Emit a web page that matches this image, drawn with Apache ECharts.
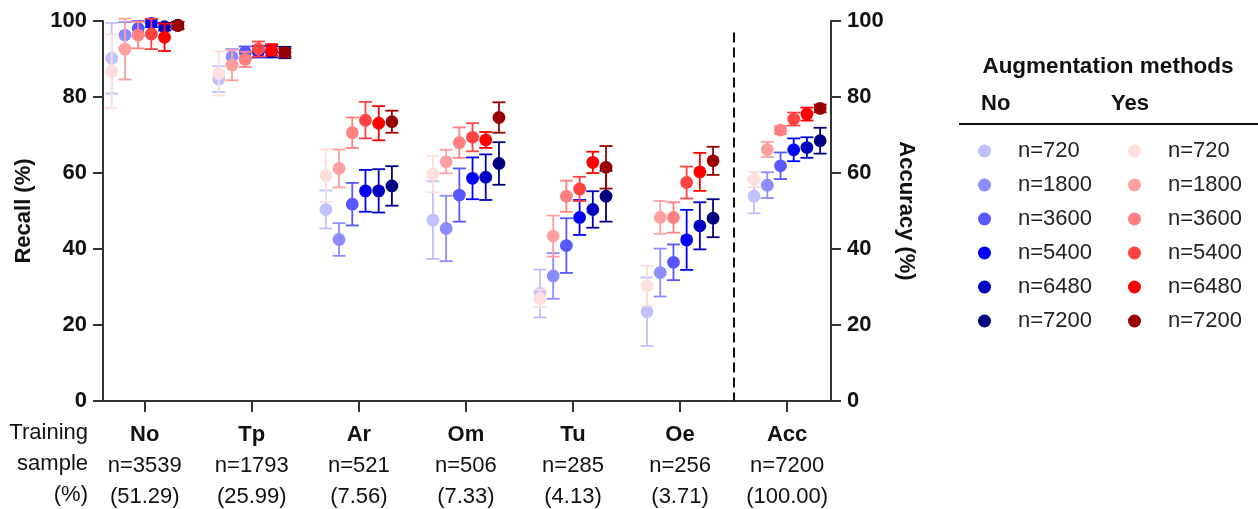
<!DOCTYPE html>
<html>
<head>
<meta charset="utf-8">
<script src="https://cdn.jsdelivr.net/npm/echarts@6/dist/echarts.min.js"></script>
<style>
  html, body { margin: 0; padding: 0; background: #fff; }
  #chart { width: 1258px; height: 509px; }
</style>
</head>
<body>
<div id="chart"></div>
<script>
(function() {
  // --- data ---
  var categories = ['No', 'Tp', 'Ar', 'Om', 'Tu', 'Oe', 'Acc'];
  var sampleCounts = ['n=3539', 'n=1793', 'n=521', 'n=506', 'n=285', 'n=256', 'n=7200'];
  var samplePct = ['(51.29)', '(25.99)', '(7.56)', '(7.33)', '(4.13)', '(3.71)', '(100.00)'];
  var sizes = ['n=720', 'n=1800', 'n=3600', 'n=5400', 'n=6480', 'n=7200'];

  // recall per size (rows) over No, Tp, Ar, Om, Tu, Oe
  var recallNo = [
    [90.2, 84.7, 50.4, 47.6, 28.3, 23.5],
    [96.3, 90.6, 42.5, 45.4, 32.9, 33.8],
    [98.0, 91.8, 51.8, 54.2, 40.9, 36.5],
    [99.4, 91.9, 55.3, 58.6, 48.3, 42.4],
    [98.5, 91.9, 55.3, 58.9, 50.4, 46.1],
    [98.9, 91.7, 56.6, 62.5, 53.9, 48.1]
  ];
  var recallNoErr = [
    [9.3, 3.4, 5.0, 10.2, 6.3, 9.0],
    [3.4, 2.0, 4.3, 8.6, 6.0, 6.3],
    [2.0, 1.5, 5.6, 7.0, 7.2, 4.7],
    [1.0, 1.5, 5.5, 5.5, 4.6, 7.9],
    [1.0, 1.5, 5.7, 6.0, 4.8, 6.2],
    [0.8, 1.5, 5.2, 5.6, 6.7, 5.0]
  ];
  var recallYes = [
    [86.8, 86.2, 59.3, 59.7, 27.0, 30.3],
    [92.6, 88.4, 61.2, 63.0, 43.4, 48.3],
    [96.3, 89.9, 70.6, 68.0, 53.9, 48.3],
    [96.6, 92.6, 73.9, 69.4, 55.8, 57.5],
    [95.7, 92.4, 73.1, 68.7, 62.8, 60.3],
    [98.8, 91.7, 73.5, 74.6, 61.5, 63.2]
  ];
  var recallYesErr = [
    [9.7, 5.8, 6.9, 4.8, 2.3, 5.2],
    [8.0, 4.0, 5.0, 3.1, 5.4, 4.3],
    [3.5, 2.0, 4.0, 4.0, 4.1, 4.0],
    [4.0, 2.0, 4.8, 3.7, 3.2, 4.2],
    [3.6, 1.5, 4.5, 2.1, 2.8, 5.0],
    [1.0, 1.0, 2.9, 4.0, 5.6, 3.7]
  ];
  // accuracy per size
  var accNo = [53.9, 56.8, 61.9, 66.1, 66.7, 68.5];
  var accNoErr = [4.5, 3.4, 3.5, 3.0, 2.7, 3.4];
  var accYes = [58.3, 66.2, 71.3, 74.2, 75.5, 77.0];
  var accYesErr = [2.0, 2.0, 1.0, 1.7, 1.7, 1.0];

  var blues = ['#c0c0ff', '#8c8cff', '#5858ff', '#0000ff', '#0000c0', '#000080'];
  var reds = ['#ffdede', '#ffa0a0', '#ff8080', '#ff4242', '#ff0000', '#990000'];

  var offsets = [-0.3085, -0.185, -0.0617, 0.0617, 0.185, 0.3085];
  var ink = '#111';
  var axisColor = '#333';
  var font = 'Arial, "Liberation Sans", sans-serif';

  function renderItem(params, api) {
    var x = api.value(0), y = api.value(1), e = api.value(2);
    var c = api.coord([x, y]);
    var top = api.coord([x, y + e]);
    var bot = api.coord([x, y - e]);
    var color = api.visual('color');
    var hw = 6.5;
    var ls = { stroke: color, lineWidth: 1.8 };
    return {
      type: 'group',
      children: [
        { type: 'line', shape: { x1: c[0], y1: top[1], x2: c[0], y2: bot[1] }, style: ls },
        { type: 'line', shape: { x1: c[0] - hw, y1: top[1], x2: c[0] + hw, y2: top[1] }, style: ls },
        { type: 'line', shape: { x1: c[0] - hw, y1: bot[1], x2: c[0] + hw, y2: bot[1] }, style: ls },
        { type: 'circle', shape: { cx: c[0], cy: c[1], r: 6.4 }, style: { fill: color } }
      ]
    };
  }

  var series = [];
  function addGroup(prefix, colors, recall, recallErr, acc, accErr) {
    sizes.forEach(function(s, i) {
      var name = prefix + ' ' + s;
      var data = recall[i].map(function(v, j) { return [j + offsets[i], v, recallErr[i][j]]; });
      series.push({
        name: name, type: 'custom', renderItem: renderItem,
        xAxisIndex: 0, yAxisIndex: 0,
        itemStyle: { color: colors[i] },
        encode: { x: 0, y: 1 },
        data: data, clip: false, silent: true
      });
      series.push({
        name: name, type: 'custom', renderItem: renderItem,
        xAxisIndex: 0, yAxisIndex: 1,
        itemStyle: { color: colors[i] },
        encode: { x: 0, y: 1 },
        data: [[6 + offsets[i], acc[i], accErr[i]]], clip: false, silent: true
      });
    });
  }
  addGroup('No', blues, recallNo, recallNoErr, accNo, accNoErr);
  addGroup('Yes', reds, recallYes, recallYesErr, accYes, accYesErr);

  // dashed separator between recall and accuracy panels
  series[0].markLine = {
    silent: true, symbol: 'none', label: { show: false },
    lineStyle: { color: ink, width: 2, type: [10, 5] },
    data: [[{ coord: [5.5, 97] }, { coord: [5.5, 0] }]]
  };

  var ticks = [0, 1, 2, 3, 4, 5, 6];

  function legendFor(prefix, left) {
    return {
      orient: 'vertical', left: left, top: 135,
      selectedMode: false,
      icon: 'circle', itemWidth: 13, itemHeight: 13, itemGap: 12,
      data: sizes.map(function(s) { return prefix + ' ' + s; }),
      formatter: function(n) { return n.split(' ')[1]; },
      textStyle: { color: '#222', fontSize: 22, lineHeight: 22, fontFamily: font, padding: [0, 0, 0, 22] }
    };
  }

  function yAxisFor(pos, name, gap, rot) {
    return {
      type: 'value', min: 0, max: 100, interval: 20, position: pos,
      name: name, nameLocation: 'middle', nameGap: gap, nameRotate: rot,
      nameTextStyle: { color: ink, fontSize: 22, fontWeight: 'bold', fontFamily: font },
      splitLine: { show: false },
      axisLine: { show: true, onZero: false, lineStyle: { color: axisColor, width: 2 } },
      axisTick: { show: true, length: 10, lineStyle: { color: axisColor, width: 2 } },
      axisLabel: { margin: 16, color: ink, fontSize: 22, fontWeight: 'bold', fontFamily: font }
    };
  }

  var chart = echarts.init(document.getElementById('chart'), null, { renderer: 'canvas' });
  chart.setOption({
    animation: false,
    backgroundColor: '#fff',
    grid: { left: 103, right: 427, top: 21, bottom: 108, containLabel: false, outerBoundsMode: 'none' },
    legend: [legendFor('No', 973), legendFor('Yes', 1123)],
    xAxis: {
      type: 'value', min: -0.39, max: 6.41,
      splitLine: { show: false },
      axisLine: { onZero: false, lineStyle: { color: axisColor, width: 2 } },
      axisTick: { customValues: ticks, length: 11, lineStyle: { color: axisColor, width: 2 } },
      axisLabel: {
        customValues: ticks, margin: 18, color: ink, fontFamily: font, fontSize: 22, lineHeight: 31,
        formatter: function(v) {
          var i = Math.round(v);
          return '{b|' + categories[i] + '}\n' + sampleCounts[i] + '\n' + samplePct[i];
        },
        rich: { b: { fontWeight: 'bold', fontSize: 22, lineHeight: 31, fontFamily: font, color: ink } }
      }
    },
    yAxis: [
      yAxisFor('left', 'Recall (%)', 68, 90),
      yAxisFor('right', 'Accuracy (%)', 58, -90)
    ],
    graphic: [
      {
        type: 'text', x: 88, y: 417,
        style: {
          text: 'Training\nsample\n(%)', align: 'right', verticalAlign: 'top', lineHeight: 31,
          fill: ink, fontSize: 22, fontFamily: font
        }
      },
      {
        type: 'text', x: 1108, y: 67,
        style: {
          text: 'Augmentation methods', align: 'center', verticalAlign: 'middle',
          fill: ink, fontSize: 22.5, fontWeight: 'bold', fontFamily: font
        }
      },
      {
        type: 'text', x: 981, y: 104,
        style: { text: 'No', verticalAlign: 'middle', fill: ink, fontSize: 22, fontWeight: 'bold', fontFamily: font }
      },
      {
        type: 'text', x: 1111, y: 104,
        style: { text: 'Yes', verticalAlign: 'middle', fill: ink, fontSize: 22, fontWeight: 'bold', fontFamily: font }
      },
      {
        type: 'line', shape: { x1: 959, y1: 124, x2: 1258, y2: 124 },
        style: { stroke: ink, lineWidth: 2 }
      }
    ],
    series: series
  });
  window.addEventListener('resize', function() { chart.resize(); });
})();
</script>
</body>
</html>
